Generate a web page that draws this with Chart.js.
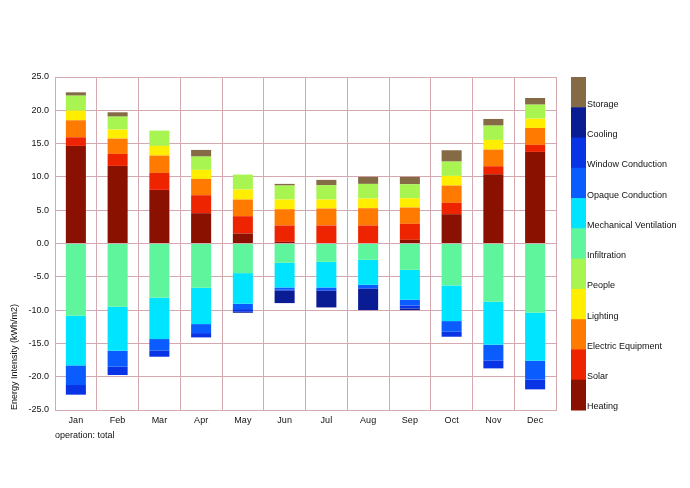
<!DOCTYPE html>
<html>
<head>
<meta charset="utf-8">
<script src="https://cdn.jsdelivr.net/npm/chart.js@4/dist/chart.umd.min.js"></script>
<style>
  html, body { margin: 0; padding: 0; background: #fff; }
  #wrap { width: 690px; height: 488px; }
</style>
</head>
<body>
<div id="wrap"><canvas id="energy"></canvas></div>
<script>
const months = ["Jan", "Feb", "Mar", "Apr", "May", "Jun", "Jul", "Aug", "Sep", "Oct", "Nov", "Dec"];

// gains (positive)
const heating = [14.65, 11.65, 8.05, 4.55, 1.5, 0.25, 0, 0, 0.55, 4.4, 10.4, 13.75];
const solar = [1.3, 1.8, 2.55, 2.7, 2.6, 2.45, 2.7, 2.7, 2.4, 1.7, 1.2, 1.05];
const equipment = [2.55, 2.3, 2.6, 2.45, 2.5, 2.45, 2.55, 2.6, 2.45, 2.6, 2.5, 2.55];
const lighting = [1.45, 1.35, 1.45, 1.35, 1.5, 1.45, 1.35, 1.45, 1.4, 1.45, 1.45, 1.4];
const people = [2.25, 1.95, 2.3, 2.0, 2.25, 2.1, 2.15, 2.2, 2.1, 2.15, 2.15, 2.1];
const storage = [0.5, 0.65, 0, 1.0, 0, 0.25, 0.8, 1.05, 1.1, 1.7, 1.0, 1.0];

// losses (negative)
const infiltration = [-10.85, -9.5, -8.15, -6.65, -4.45, -2.9, -2.75, -2.45, -3.95, -6.3, -8.75, -10.4];
const mechVent = [-7.45, -6.6, -6.2, -5.45, -4.6, -3.7, -3.85, -3.75, -4.5, -5.35, -6.45, -7.2];
const opaque = [-2.95, -2.4, -1.75, -1.35, -0.8, -0.35, -0.4, -0.5, -0.85, -1.6, -2.35, -2.8];
const windowCond = [-1.45, -1.25, -0.9, -0.65, -0.4, -0.1, -0.1, -0.1, -0.45, -0.75, -1.2, -1.5];
const cooling = [0, 0, 0, 0, -0.15, -1.9, -2.5, -3.2, -0.25, 0, 0, 0];

const series = [
  { label: "Heating", data: heating, color: "#8a1000" },
  { label: "Solar", data: solar, color: "#ee2400" },
  { label: "Electric Equipment", data: equipment, color: "#ff7a00" },
  { label: "Lighting", data: lighting, color: "#ffee00" },
  { label: "People", data: people, color: "#a8f552" },
  { label: "Infiltration", data: infiltration, color: "#5ef59c" },
  { label: "Mechanical Ventilation", data: mechVent, color: "#00e4ff" },
  { label: "Opaque Conduction", data: opaque, color: "#0a5cff" },
  { label: "Window Conduction", data: windowCond, color: "#0834e6" },
  { label: "Cooling", data: cooling, color: "#0a1c94" },
  { label: "Storage", data: storage, color: "#846a45" },
];

const gridColor = "#d6a8b0";
const fontFamily = "'Liberation Sans', Arial, sans-serif";

// colour bar legend on the right
const colorBarLegend = {
  id: "colorBarLegend",
  afterDraw(chart) {
    const ctx = chart.ctx;
    const area = chart.chartArea;
    const x = 571, w = 15;
    const n = series.length;
    const h = (area.bottom - area.top) / n;
    ctx.save();
    ctx.font = "9px " + fontFamily;
    ctx.textBaseline = "middle";
    ctx.textAlign = "left";
    for (let i = 0; i < n; i++) {
      const s = series[n - 1 - i];
      const y = area.top + i * h;
      ctx.fillStyle = s.color;
      ctx.fillRect(x, y, w, h + 0.5);
      ctx.fillStyle = "#111";
      ctx.fillText(s.label, x + w + 1, y + h - 3);
    }
    ctx.restore();
  },
};

new Chart(document.getElementById("energy"), {
  type: "bar",
  data: {
    labels: months,
    datasets: series.map((s) => ({
      label: s.label,
      data: s.data,
      backgroundColor: s.color,
      borderWidth: 0,
      barPercentage: 0.48,
      categoryPercentage: 1,
    })),
  },
  options: {
    responsive: true,
    maintainAspectRatio: false,
    animation: false,
    layout: { padding: { top: 77, right: 134, bottom: 0, left: 0 } },
    plugins: {
      legend: { display: false },
      tooltip: { enabled: false },
    },
    scales: {
      x: {
        stacked: true,
        afterFit(scale) { scale.height = 78; },
        grid: { color: gridColor, offset: true, drawTicks: false },
        border: { color: gridColor },
        ticks: { color: "#111", font: { family: fontFamily, size: 9 }, padding: 5 },
        title: {
          display: true,
          text: "operation: total",
          align: "start",
          color: "#111",
          font: { family: fontFamily, size: 9 },
          padding: { top: 0, bottom: 47 },
        },
      },
      y: {
        stacked: true,
        min: -25,
        max: 25,
        afterFit(scale) { scale.width = 55; },
        grid: { color: gridColor, drawTicks: false },
        border: { color: gridColor },
        ticks: {
          stepSize: 5,
          color: "#111",
          padding: 6,
          font: { family: fontFamily, size: 9 },
          callback: (v) => v.toFixed(1),
        },
        title: {
          display: true,
          text: "Energy Intensity (kWh/m2)",
          align: "start",
          color: "#111",
          font: { family: fontFamily, size: 9 },
          padding: { top: 9, bottom: 0 },
        },
      },
    },
  },
  plugins: [colorBarLegend],
});
</script>
</body>
</html>
